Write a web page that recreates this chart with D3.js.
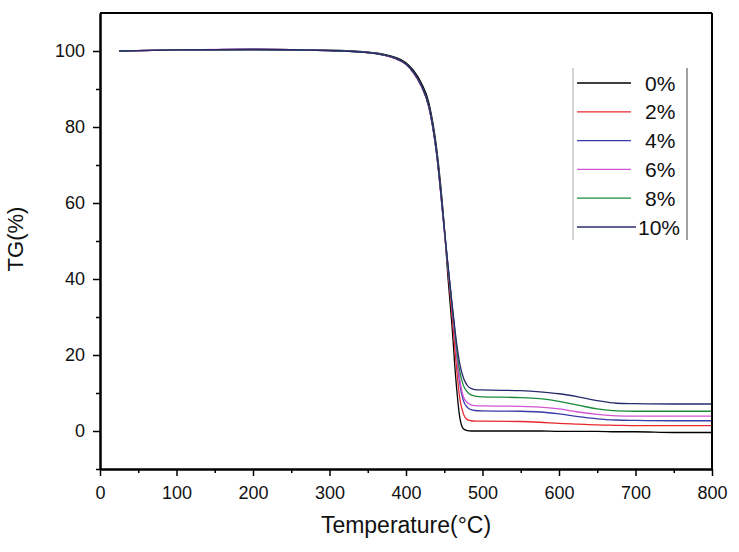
<!DOCTYPE html>
<html><head><meta charset="utf-8">
<script src="https://cdn.jsdelivr.net/npm/d3@7"></script>
<style>body{margin:0;background:#fff;} text{font-family:"Liberation Sans",Arial,sans-serif;fill:#111;}</style>
</head><body>
<svg id="c" width="739" height="552"></svg>
<script>
const temps = [25,100,200,300,350,370,385,400,410,420,430,440,450,455,460,465,470,475,480,485,490,500,550,575,600,625,650,675,700,750,800];
const tg0  = [100,100.3,100.4,100.2,99.7,99.2,98.4,96.9,94.8,91.6,86.3,74.5,54,40,28,14,4,0.6,0.1,0,0,0,0,0,-0.1,-0.1,-0.1,-0.2,-0.2,-0.4,-0.4];
const tg2  = [100,100.3,100.4,100.1,99.6,99.0,98.1,96.5,94.2,90.8,85.2,73,53,42,31,19,9,4.5,3.0,2.7,2.6,2.6,2.5,2.3,2.0,1.8,1.6,1.5,1.4,1.4,1.4];
const tg4  = [100,100.3,100.4,100.1,99.6,99.0,98.1,96.5,94.2,90.8,85.2,73,53,43,33,23,13,8,6.3,5.6,5.4,5.3,5.2,5.0,4.5,3.8,3.2,2.9,2.8,2.7,2.7];
const tg6  = [100,100.3,100.5,100.1,99.6,99.0,98.1,96.5,94.2,90.8,85.2,73,53,43,33,23,14,9,7.5,6.9,6.7,6.6,6.5,6.3,5.8,5.0,4.4,4.0,3.9,3.9,3.9];
const tg8  = [100,100.3,100.4,100.1,99.6,99.0,98.2,96.6,94.4,91.0,85.4,73.3,53.5,43,33.5,24,16,12,10.3,9.5,9.2,9.0,8.8,8.5,7.8,6.8,5.8,5.3,5.2,5.2,5.2];
const tg10 = [100,100.3,100.4,100.1,99.6,99.0,98.2,96.6,94.4,91.0,85.4,73.3,53.5,43.5,34,25,18,14,12,11.2,10.9,10.8,10.6,10.3,9.8,9.0,8.0,7.3,7.2,7.1,7.1];
const seriesNames = ["0%","2%","4%","6%","8%","10%"];
const seriesData = [tg0,tg2,tg4,tg6,tg8,tg10];
const seriesColors = ["#000000","#e8282e","#3a3aa8","#d455d4","#1a8a3c","#2a2a6e"];
const xTicks = [0,100,200,300,400,500,600,700,800];
const yTicks = [0,20,40,60,80,100];

const svg = d3.select("#c");
const L=100,R=712,T=13,B=469;
const x = d3.scaleLinear().domain([0,800]).range([L,R]);
const y = d3.scaleLinear().domain([-10,110]).range([B,T]);

const line = d3.line().x((d,i)=>x(temps[i])).y(d=>y(d)).curve(d3.curveMonotoneX);
seriesData.forEach((s,k)=>{
  svg.append("path").attr("d",line(s)).attr("fill","none").attr("stroke",seriesColors[k]).attr("stroke-width",1.3);
});

// frame
svg.append("line").attr("x1",L).attr("x2",R).attr("y1",T).attr("y2",T).attr("stroke","#000").attr("stroke-width",2);
svg.append("line").attr("x1",R).attr("x2",R).attr("y1",T).attr("y2",B).attr("stroke","#000").attr("stroke-width",2);

// axes
const xa = svg.append("g").attr("transform",`translate(0,${B})`)
  .call(d3.axisBottom(x).tickValues(xTicks).tickSize(7).tickPadding(10).tickSizeOuter(0));
const xm = svg.append("g").attr("transform",`translate(0,${B})`)
  .call(d3.axisBottom(x).tickValues(d3.range(50,800,100)).tickSize(4).tickFormat("").tickSizeOuter(0));
const ya = svg.append("g").attr("transform",`translate(${L},0)`)
  .call(d3.axisLeft(y).tickValues(yTicks).tickSize(7).tickPadding(8).tickSizeOuter(0));
const ym = svg.append("g").attr("transform",`translate(${L},0)`)
  .call(d3.axisLeft(y).tickValues([-10,10,30,50,70,90]).tickSize(4).tickFormat("").tickSizeOuter(0));
[xa,xm,ya,ym].forEach(g=>{
  g.select(".domain").attr("stroke","#000").attr("stroke-width",2);
  g.selectAll(".tick line").attr("stroke","#000").attr("stroke-width",1.5);
  g.selectAll(".tick text").attr("font-size",18).attr("fill","#111").attr("font-family","Liberation Sans, Arial, sans-serif");
});

svg.append("text").attr("x",(L+R)/2).attr("y",533).attr("text-anchor","middle").attr("font-size",23).text("Temperature(°C)");
svg.append("text").attr("transform","translate(23,239) rotate(-90)").attr("text-anchor","middle").attr("font-size",22).text("TG(%)");

// legend
const lg = svg.append("g");
lg.append("line").attr("x1",573).attr("x2",573).attr("y1",68).attr("y2",240).attr("stroke","#aaa").attr("stroke-width",1);
lg.append("line").attr("x1",687).attr("x2",687).attr("y1",68).attr("y2",240).attr("stroke","#444").attr("stroke-width",1);
seriesNames.forEach((n,k)=>{
  const yy = 83 + k*28.8;
  lg.append("line").attr("x1",577).attr("x2",k===5?636:631).attr("y1",yy).attr("y2",yy).attr("stroke",seriesColors[k]).attr("stroke-width",1.3);
  lg.append("text").attr("x",k===5?638:645).attr("y",yy+7.5).attr("text-anchor","start").attr("font-size",21).text(n);
});
</script>
</body></html>
